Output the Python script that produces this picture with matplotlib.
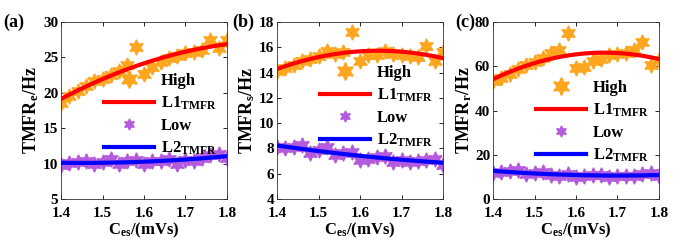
import numpy as np
import matplotlib
matplotlib.use("Agg")
import matplotlib.pyplot as plt

plt.rcParams['font.family'] = 'Liberation Serif'
plt.rcParams['font.weight'] = 'bold'
plt.rcParams['mathtext.fontset'] = 'custom'
plt.rcParams['mathtext.rm'] = 'Liberation Serif:bold'
plt.rcParams['mathtext.it'] = 'Liberation Serif:bold'
plt.rcParams['mathtext.bf'] = 'Liberation Serif:bold'

c_es = [1.40, 1.42, 1.44, 1.46, 1.48, 1.50, 1.52, 1.54, 1.56, 1.58,
        1.60, 1.62, 1.64, 1.66, 1.68, 1.70, 1.72, 1.74, 1.76, 1.78, 1.80]

high_e = [18.6, 19.6, 20.3, 21.0, 21.6, 22.0, 22.5, 23.1, 23.9, 26.5,
          22.7, 23.6, 24.4, 24.9, 25.2, 25.6, 25.7, 26.0, 27.4, 26.3, 27.5]
low_e = [9.8, 10.1, 10.2, 10.4, 9.9, 10.2, 10.6, 9.9, 10.3, 10.5,
         9.9, 10.3, 10.4, 10.7, 9.9, 10.5, 10.4, 10.8, 11.2, 11.3, 10.8]

high_s = [14.1, 14.4, 14.6, 14.9, 15.1, 15.3, 15.7, 15.5, 15.6, 17.2,
          14.9, 15.4, 15.4, 15.7, 15.5, 15.4, 15.3, 15.2, 16.1, 14.9, 15.6]
low_s = [8.1, 8.0, 8.1, 8.3, 7.6, 7.9, 8.1, 7.5, 7.6, 7.7,
         7.1, 7.2, 7.3, 7.4, 6.9, 7.1, 6.9, 7.0, 7.1, 7.2, 6.7]

high_r = [53.4, 54.6, 56.5, 58.8, 60.6, 62.1, 63.6, 65.9, 67.4, 74.9,
          59.1, 59.8, 62.4, 63.2, 65.1, 65.6, 66.2, 67.4, 71.1, 60.6, 62.9]
low_r = [11.8, 12.3, 12.5, 13.0, 11.5, 11.8, 12.2, 11.0, 10.6, 11.5,
         10.0, 10.5, 10.8, 11.0, 10.0, 10.4, 10.2, 10.6, 11.1, 11.8, 10.2]

panels = ['(a)', '(b)', '(c)']
ylabels = ['TMFR$_{e}$/Hz', 'TMFR$_{s}$/Hz', 'TMFR$_{r}$/Hz']
yticks = [[5, 10, 15, 20, 25, 30], [4, 6, 8, 10, 12, 14, 16, 18], [0, 20, 40, 60, 80]]
xticks = [1.4, 1.5, 1.6, 1.7, 1.8]
highs = [high_e, high_s, high_r]
lows = [low_e, low_s, low_r]

orange = '#FFA51E'
purple = '#B45ADC'
star = (6, 1, 0)

fig = plt.figure(figsize=(6.98, 2.5), dpi=100)
lefts = [61 / 698, 277 / 698, 493 / 698]
panel_x = [3 / 698, 232 / 698, 455 / 698]
legend_y = [0.75, 0.795, 0.71]
w = 166 / 698
b = 1 - 199 / 250
h = 177 / 250

for i in range(3):
    ax = fig.add_axes([lefts[i], b, w, h])
    x = np.array(c_es)
    yh = np.array(highs[i])
    yl = np.array(lows[i])
    xf = np.linspace(1.4, 1.8, 100)
    ph = np.polyfit(x, yh, 2)
    pl = np.polyfit(x, yl, 2)
    ax.plot(x, yh, linestyle='none', marker=star, ms=11, color=orange, label='High', zorder=2)
    ax.plot(xf, np.polyval(ph, xf), color='red', lw=3, label='L1$_{TMFR}$', zorder=3)
    ax.plot(x, yl, linestyle='none', marker=star, ms=11, color=purple, label='Low', zorder=2)
    ax.plot(xf, np.polyval(pl, xf), color='blue', lw=3, label='L2$_{TMFR}$', zorder=3)
    ax.set_xlim(1.4, 1.8)
    ax.set_ylim(yticks[i][0], yticks[i][-1])
    ax.set_xticks(xticks)
    ax.set_yticks(yticks[i])
    ax.set_xticklabels([str(t) for t in xticks])
    ax.tick_params(direction='in', top=True, right=True, labelsize=11, length=3, width=0.6)
    ax.tick_params(axis='x', pad=6)
    ax.tick_params(axis='y', pad=2)
    for lab in ax.get_xticklabels() + ax.get_yticklabels():
        lab.set_fontweight('bold')
    for sp in ax.spines.values():
        sp.set_linewidth(0.6)
        sp.set_color('#333333')
    ax.set_ylabel(ylabels[i], fontsize=13, fontweight='bold', labelpad=1)
    ax.set_xlabel('C$_{es}$/(mVs)', fontsize=12, fontweight='bold', labelpad=0)
    leg = ax.legend(loc='upper left', bbox_to_anchor=(0.22, legend_y[i]), frameon=False,
                    handlelength=3.0, labelspacing=0.35, handletextpad=0.4,
                    borderaxespad=0, prop={'weight': 'bold', 'size': 12})
    hs = leg.legend_handles
    hs[0].set_markersize(13)
    hs[2].set_markersize(8)
    fig.text(panel_x[i], 1 - 22 / 250, panels[i], fontsize=13,
             fontweight='bold', ha='left', va='center')

fig.savefig('out.png', dpi=100)
